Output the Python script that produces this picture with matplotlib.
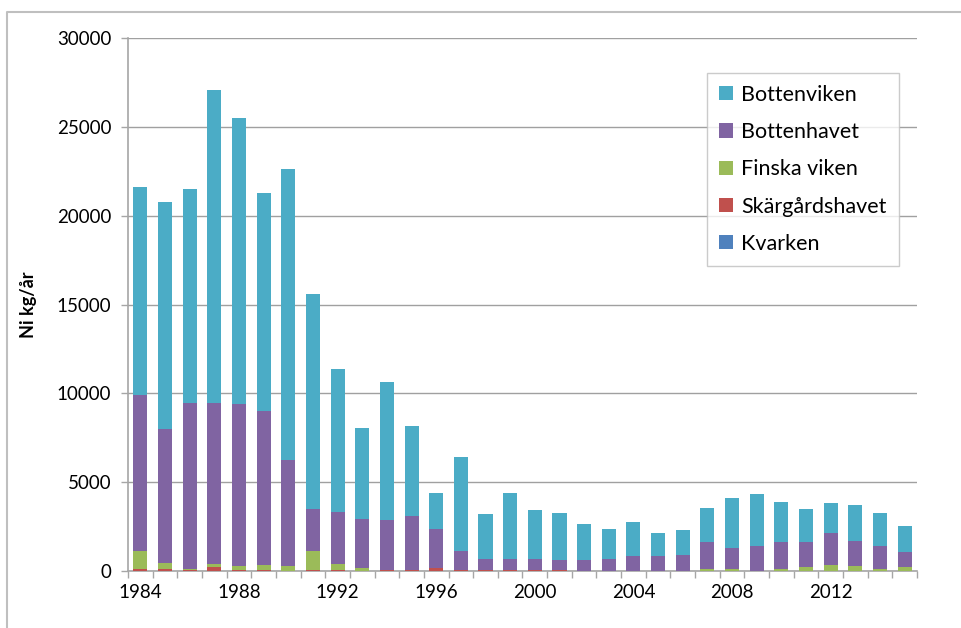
import matplotlib
matplotlib.use("Agg")
import matplotlib.pyplot as plt
from matplotlib.lines import Line2D
import numpy as np

years = list(range(1984, 2016))
kvarken = [0] * 32
skargardshavet = [100, 100, 60, 200, 60, 30, 10, 40, 40, 10, 80, 80, 150, 40, 80, 30,
                  30, 30, 0, 0, 0, 0, 0, 0, 0, 0, 0, 0, 0, 0, 0, 0]
finska_viken = [1040, 330, 60, 190, 200, 310, 250, 1100, 350, 160, 0, 0, 0, 0, 0, 0,
                0, 0, 0, 0, 0, 0, 0, 110, 110, 20, 110, 200, 340, 300, 110, 200]
bottenhavet = [8770, 7560, 9320, 9080, 9140, 8690, 6000, 2330, 2930, 2760, 2790, 3020,
               2210, 1090, 580, 665, 665, 570, 600, 690, 845, 845, 880, 1500, 1185, 1405,
               1540, 1450, 1780, 1390, 1315, 870]
bottenviken = [11700, 12760, 12045, 17590, 16100, 12230, 16370, 12120, 8030, 5100, 7750,
               5065, 2045, 5275, 2530, 3715, 2720, 2680, 2045, 1690, 1895, 1295, 1445,
               1935, 2795, 2925, 2250, 1860, 1710, 2045, 1820, 1480]

series = [
    ("Kvarken", kvarken, "#4F81BD"),
    ("Skärgårdshavet", skargardshavet, "#C0504D"),
    ("Finska viken", finska_viken, "#9BBB59"),
    ("Bottenhavet", bottenhavet, "#8064A2"),
    ("Bottenviken", bottenviken, "#4BACC6"),
]

plt.rcParams['font.family'] = ['Lato', 'DejaVu Sans']

fig = plt.figure(figsize=(9.62, 6.28), dpi=100)
ax = fig.add_axes([128/962, 1-571/628, (917-128)/962, (571-38)/628])

x = np.arange(len(years))
bottom = np.zeros(len(years))
handles = []
for name, vals, col in series:
    v = np.array(vals, dtype=float)
    b = ax.bar(x, v, 0.57, bottom=bottom, color=col, label=name, zorder=3,
               edgecolor=col, linewidth=0)
    bottom += v
    handles.append(b)

ax.set_xlim(-0.5, len(years) - 0.5)
ax.set_ylim(0, 30000)
ax.set_yticks(np.arange(0, 30001, 5000))
ax.yaxis.grid(True, color="#A0A0A0", linewidth=1.0, zorder=0)
ax.set_axisbelow(True)

# category ticks at boundaries, labels every 4 years
ax.set_xticks(np.arange(-0.5, len(years), 1.0), minor=False)
ax.set_xticklabels([])
ax.set_xticks([i for i, y in enumerate(years) if (y - 1984) % 4 == 0], minor=True)
ax.set_xticklabels([str(y) for y in years if (y - 1984) % 4 == 0], minor=True)
ax.tick_params(axis='x', which='major', length=5, color="#A6A6A6", width=1)
ax.tick_params(axis='x', which='minor', length=0, pad=9, labelsize=13.5, labelcolor="#000000")
ax.tick_params(axis='y', length=5, color="#A6A6A6", width=1, labelsize=13.5, pad=7)

for s in ["top", "right"]:
    ax.spines[s].set_visible(False)
for s in ["left", "bottom"]:
    ax.spines[s].set_color("#A6A6A6")
    ax.spines[s].set_linewidth(1.2)

ax.set_ylabel("Ni kg/år", fontsize=13, fontweight="bold", labelpad=14)

leg = ax.legend(handles=handles[::-1], labels=[s[0] for s in series][::-1],
                loc="upper left", bbox_to_anchor=((707-128)/789, (571-73)/533),
                fontsize=15.5, frameon=True, fancybox=False, edgecolor="#BFBFBF",
                handlelength=0.65, handleheight=0.65, handletextpad=0.4,
                labelspacing=0.8, borderpad=0.55, borderaxespad=0)
leg.get_frame().set_linewidth(1.0)

# figure frame (left & top)
fig.add_artist(Line2D([7.5/962, 7.5/962, 1.0], [0.0, 1-11.7/628, 1-11.7/628],
                      transform=fig.transFigure, color="#BFBFBF", linewidth=1.5))

fig.savefig("out.png", dpi=100)
